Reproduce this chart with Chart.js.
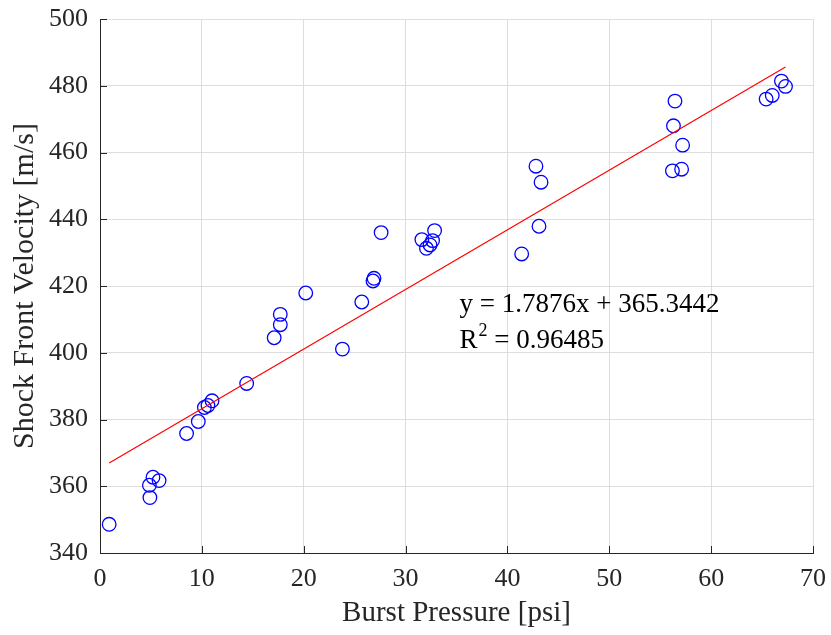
<!DOCTYPE html>
<html>
<head>
<meta charset="utf-8">
<script src="https://cdn.jsdelivr.net/npm/chart.js@4/dist/chart.umd.min.js"></script>
<style>
  html, body { margin: 0; padding: 0; background: #ffffff; }
  #wrap { width: 831px; height: 635px; }
</style>
</head>
<body>
<div id="wrap"><canvas id="c" width="831" height="635"></canvas></div>
<script>
// ---- Data ----
const burstPressure = [0.9, 4.9, 4.85, 5.2, 5.8, 8.5, 9.65, 10.25, 10.6, 11.0, 14.4, 17.1, 17.7, 17.7, 20.2, 23.8, 25.7, 26.8, 26.9, 27.6, 31.6, 32.05, 32.4, 32.65, 32.85, 41.4, 43.1, 42.8, 43.3, 56.2, 57.1, 57.2, 56.3, 56.45, 65.4, 66.0, 66.9, 67.3];
const shockVelocity = [348.6, 356.6, 360.3, 362.7, 361.7, 375.8, 379.4, 383.6, 384.2, 385.6, 390.8, 404.5, 408.4, 411.5, 417.9, 401.1, 415.2, 421.5, 422.3, 436.0, 433.9, 431.3, 432.3, 433.6, 436.6, 429.6, 437.9, 455.9, 451.1, 454.5, 455.0, 462.2, 468.0, 475.4, 476.0, 477.1, 481.4, 479.8];
const fitX = [0.9, 67.3];
const fitY = [366.95, 485.65];
const xTicksRange = [0, 70, 10];
const yTicksRange = [340, 500, 20];
const xTitle = 'Burst Pressure [psi]';
const yTitle = 'Shock Front Velocity [m/s]';
const eqText = 'y = 1.7876x + 365.3442';
const r2Label = 'R';
const r2Sup = '2';
const r2Value = ' = 0.96485';

const FONT = '"Liberation Serif", "Times New Roman", serif';
const TXT = '#262626';

const scatterPts = burstPressure.map((x, i) => ({ x: x, y: shockVelocity[i] }));
const fitPts = fitX.map((x, i) => ({ x: x, y: fitY[i] }));

const inwardTicks = {
  id: 'inwardTicks',
  afterDraw(chart) {
    const ctx = chart.ctx, xs = chart.scales.x, ys = chart.scales.y, a = chart.chartArea;
    ctx.save();
    ctx.strokeStyle = TXT;
    ctx.lineWidth = 1;
    ctx.beginPath();
    xs.ticks.forEach(t => {
      const px = Math.round(xs.getPixelForValue(t.value)) + 0.5;
      ctx.moveTo(px, a.bottom); ctx.lineTo(px, a.bottom - 7);
    });
    ys.ticks.forEach(t => {
      const py = Math.round(ys.getPixelForValue(t.value)) + 0.5;
      ctx.moveTo(a.left, py); ctx.lineTo(a.left + 7, py);
    });
    ctx.stroke();
    ctx.restore();
  }
};

const annot = {
  id: 'annot',
  afterDraw(chart, args, opts) {
    const ctx = chart.ctx, xs = chart.scales.x, ys = chart.scales.y;
    const x0 = xs.getPixelForValue(opts.x);
    const y1 = ys.getPixelForValue(opts.y1);
    const y2 = ys.getPixelForValue(opts.y2);
    ctx.save();
    ctx.fillStyle = '#000000';
    ctx.textBaseline = 'alphabetic';
    ctx.textAlign = 'left';
    ctx.font = '27px ' + FONT;
    ctx.fillText(eqText, x0, y1);
    ctx.fillText(r2Label, x0, y2);
    let w = ctx.measureText(r2Label).width;
    ctx.font = '18px ' + FONT;
    ctx.fillText(r2Sup, x0 + w + 1, y2 - 12);
    const w2 = ctx.measureText(r2Sup).width;
    ctx.font = '27px ' + FONT;
    ctx.fillText(r2Value, x0 + w + w2 + 1, y2);
    ctx.restore();
  }
};

new Chart(document.getElementById('c'), {
  data: {
    datasets: [
      {
        type: 'line',
        data: fitPts,
        borderColor: '#ff0000',
        borderWidth: 1.2,
        pointRadius: 0,
        fill: false,
        tension: 0
      },
      {
        type: 'scatter',
        data: scatterPts,
        pointStyle: 'circle',
        pointRadius: 6.8,
        pointBorderWidth: 1.3,
        pointBorderColor: '#0000ff',
        pointBackgroundColor: 'rgba(0,0,0,0)',
        borderColor: '#0000ff',
        backgroundColor: 'rgba(0,0,0,0)'
      }
    ]
  },
  options: {
    responsive: false,
    animation: false,
    devicePixelRatio: 1,
    layout: { padding: { left: 0, right: 18, top: 19, bottom: 0 } },
    plugins: {
      legend: { display: false },
      tooltip: { enabled: false },
      annot: { x: 35.3, y1: 412.3, y2: 401.3 }
    },
    scales: {
      x: {
        type: 'linear',
        min: xTicksRange[0], max: xTicksRange[1],
        afterFit: s => { s.height = 82; s.paddingLeft = 0; s.paddingRight = 0; },
        ticks: { stepSize: xTicksRange[2], color: TXT, padding: 11, font: { family: FONT, size: 26 } },
        grid: { color: '#dedede', drawTicks: false, lineWidth: 1 },
        border: { display: true, color: TXT, width: 1 },
        title: { display: true, text: xTitle, color: TXT, font: { family: FONT, size: 29 }, padding: { top: 0, bottom: 4 } }
      },
      y: {
        type: 'linear',
        min: yTicksRange[0], max: yTicksRange[1],
        afterFit: s => { s.width = 100; s.paddingTop = 0; s.paddingBottom = 0; },
        ticks: { stepSize: yTicksRange[2], color: TXT, padding: 12, font: { family: FONT, size: 26 } },
        grid: { color: '#dedede', drawTicks: false, lineWidth: 1 },
        border: { display: true, color: TXT, width: 1 },
        title: { display: true, text: yTitle, color: TXT, font: { family: FONT, size: 30 }, padding: { top: 7, bottom: 0 } }
      }
    }
  },
  plugins: [inwardTicks, annot]
});
</script>
</body>
</html>
